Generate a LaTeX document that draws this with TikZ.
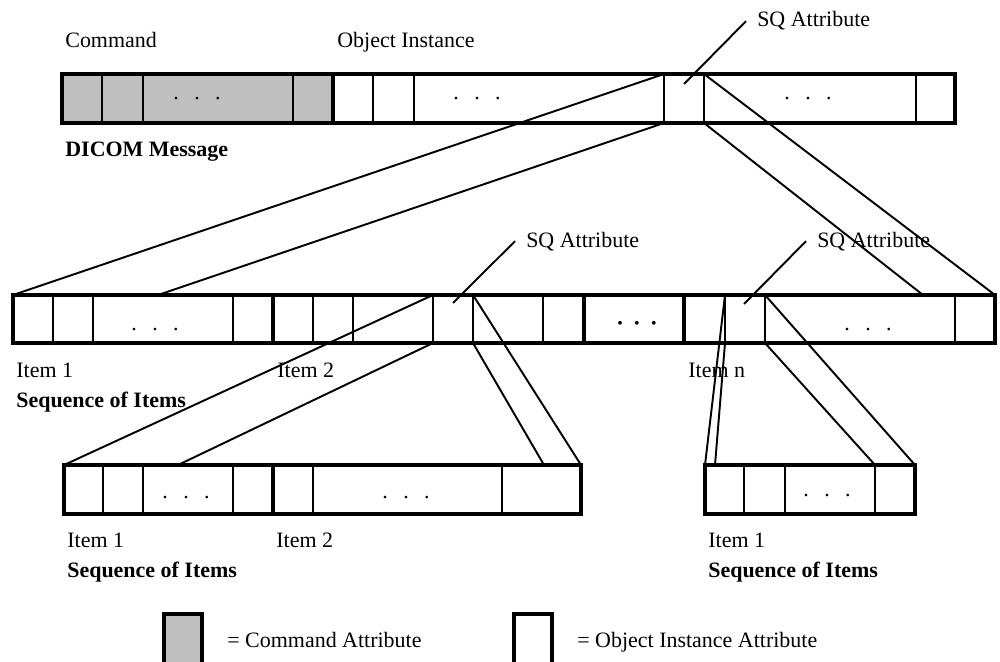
\documentclass[tikz,border=0pt]{standalone}
\usepackage{fontspec}
\setmainfont{Liberation Serif}
\usetikzlibrary{fit}

\newcommand{\smalldots}{.\hspace{8.8pt}.\hspace{8.8pt}.}
\newcommand{\bigdots}{{\fontsize{9}{9}\selectfont\textbullet\hspace{6.5pt}\textbullet\hspace{6.5pt}\textbullet}}

\begin{document}
\begin{tikzpicture}[x=0.02cm, y=-0.02cm,
    bar/.style={draw, line width=2.8pt, inner sep=0pt, outer sep=0pt},
    cellbox/.style={inner sep=0pt, outer sep=0pt},
    divider/.style={line width=1.1pt},
    itemsep/.style={line width=2.4pt},
    link/.style={line width=1.1pt},
    lbl/.style={anchor=base west, inner sep=0pt, font=\fontsize{12.5}{15}\selectfont},
    sqlbl/.style={lbl, inner xsep=6.2pt},
    dotmark/.style={inner sep=0pt, font=\fontsize{12.5}{15}\selectfont},
    legendbox/.style={line width=2pt}]
    % Define picture size
    \def\picwidth{1000}
    \def\picheight{662}
    \useasboundingbox (0,0) rectangle (\picwidth,\picheight);
    \clip (0,0) rectangle (\picwidth,\picheight);
    % Draw the DICOM message on top
    \begin{scope}
        \fill[gray!50] (62,74) rectangle (333,123);
        \foreach \x in {102,143,293,373,414,664,704,916}
            \draw[divider] (\x,74) -- (\x,123);
        \draw[itemsep] (333,74) -- (333,123);
        \node[bar, fit={(62,74) (955,123)}] (dicom) {};
        \node[cellbox, fit={(664,74) (704,123)}] (sqtop) {};
        \node[dotmark] (dotsa) at (197,99) {\smalldots};
        \node[dotmark] (dotsb) at (477,99) {\smalldots};
        \node[dotmark] (dotsc) at (808,99) {\smalldots};
        \node[lbl] (cmdlbl) at (65,48) {Command};
        \node[lbl] (objlbl) at (337,48) {Object Instance};
        \node[lbl, font=\fontsize{12.5}{15}\selectfont\bfseries] (msglbl) at (65,157) {DICOM Message};
        \node[sqlbl] (sqlbltop) at (746,27) {SQ Attribute};
        \coordinate (sqpttop) at (684,84);
    \end{scope}
    % Draw the sequence of items in the middle
    \begin{scope}
        \foreach \x in {53,93,233,313,353,433,473,543,725,765,955}
            \draw[divider] (\x,295) -- (\x,343);
        \foreach \x in {273,584,684}
            \draw[itemsep] (\x,295) -- (\x,343);
        \node[bar, fit={(13,295) (995,343)}] (seq) {};
        \node[cellbox, fit={(433,295) (473,343)}] (sqmid) {};
        \node[cellbox, fit={(725,295) (765,343)}] (sqn) {};
        \node[dotmark] (dotsd) at (155,330) {\smalldots};
        \node[dotmark] (dotse) at (868,330) {\smalldots};
        \node[inner sep=0pt] (dotsf) at (637,325) {\bigdots};
        \node[lbl] (itema) at (16,377) {Item 1};
        \node[lbl] (itemb) at (277,377) {Item 2};
        \node[lbl] (itemn) at (688,377) {Item n};
        \node[lbl, font=\fontsize{12.5}{15}\selectfont\bfseries] (seqlbl) at (16,407) {Sequence of Items};
        \node[sqlbl] (sqlblmid) at (515,247) {SQ Attribute};
        \node[sqlbl] (sqlbln) at (806,247) {SQ Attribute};
        \coordinate (sqptmid) at (453,303);
        \coordinate (sqptn) at (744,304);
        \coordinate (seqa) at (158,295);
        \coordinate (seqb) at (923,295);
    \end{scope}
    % Draw the nested sequences at the bottom
    \begin{scope}
        \foreach \x in {103,143,233,313,502}
            \draw[divider] (\x,465) -- (\x,514);
        \draw[itemsep] (273,465) -- (273,514);
        \node[bar, fit={(64,465) (581,514)}] (subl) {};
        \foreach \x in {744,785,875}
            \draw[divider] (\x,465) -- (\x,514);
        \node[bar, fit={(705,465) (915,514)}] (subr) {};
        \node[dotmark] (dotsg) at (186,498) {\smalldots};
        \node[dotmark] (dotsh) at (406,498) {\smalldots};
        \node[dotmark] (dotsi) at (827,496) {\smalldots};
        \node[lbl] (subitema) at (67,547) {Item 1};
        \node[lbl] (subitemb) at (276,547) {Item 2};
        \node[lbl, font=\fontsize{12.5}{15}\selectfont\bfseries] (sublbl) at (67,577) {Sequence of Items};
        \node[lbl] (subitemc) at (708,547) {Item 1};
        \node[lbl, font=\fontsize{12.5}{15}\selectfont\bfseries] (subrlbl) at (708,577) {Sequence of Items};
        \coordinate (subla) at (178,465);
        \coordinate (sublb) at (544,465);
        \coordinate (subra) at (715,465);
        \coordinate (subrb) at (875,465);
    \end{scope}
    % Expansion lines
    \draw[link] (sqtop.north west) -- (seq.north west);
    \draw[link] (sqtop.south west) -- (seqa);
    \draw[link] (sqtop.north east) -- (seq.north east);
    \draw[link] (sqtop.south east) -- (seqb);
    \draw[link] (sqmid.north west) -- (subl.north west);
    \draw[link] (sqmid.south west) -- (subla);
    \draw[link] (sqmid.north east) -- (subl.north east);
    \draw[link] (sqmid.south east) -- (sublb);
    \draw[link] (sqn.north west) -- (subr.north west);
    \draw[link] (sqn.south west) -- (subra);
    \draw[link] (sqn.north east) -- (subr.north east);
    \draw[link] (sqn.south east) -- (subrb);
    % SQ leaders
    \draw[link] (sqlbltop.west) -- (sqpttop);
    \draw[link] (sqlblmid.west) -- (sqptmid);
    \draw[link] (sqlbln.west) -- (sqptn);
    % Legend
    \draw[legendbox, fill=gray!50] (164,614) rectangle (202,680);
    \node[lbl] (cmdkey) at (227,647) {= Command Attribute};
    \draw[legendbox] (514,614) rectangle (552,680);
    \node[lbl] (objkey) at (577,647) {= Object Instance Attribute};
\end{tikzpicture}
\end{document}
